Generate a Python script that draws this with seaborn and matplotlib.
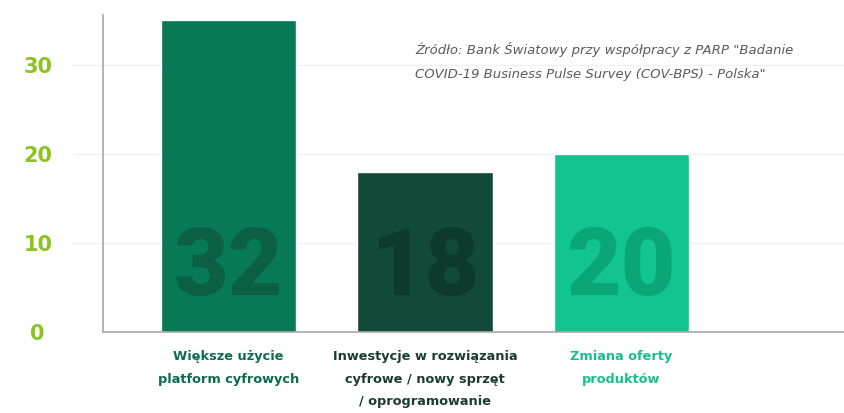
import matplotlib
matplotlib.use("Agg")
import matplotlib.pyplot as plt
import seaborn as sns
import pandas as pd

categories = ["Większe użycie\nplatform cyfrowych",
              "Inwestycje w rozwiązania\ncyfrowe / nowy sprzęt\n/ oprogramowanie",
              "Zmiana oferty\nproduktów"]
bar_heights = [35, 18, 20]
value_labels = ["32", "18", "20"]
y_ticks = [0, 10, 20, 30]
bar_colors = ["#077a55", "#124a3a", "#12c48d"]
number_colors = ["#0b5f43", "#0e3a2d", "#0aa676"]
label_colors = ["#0c6b4d", "#1b3b31", "#16c08c"]
source_text = ("Źródło: Bank Światowy przy współpracy z PARP \"Badanie\n"
               "COVID-19 Business Pulse Survey (COV-BPS) - Polska\"")

sns.set_theme(style="white")
plt.rcParams['font.family'] = ['DejaVu Sans']

df = pd.DataFrame({"cat": categories, "val": bar_heights})

fig = plt.figure(figsize=(8.45, 4.13), dpi=100)
ax = fig.add_axes([0.1219, 0.196, 0.8781, 0.768])

sns.barplot(data=df, x="cat", y="val", hue="cat", palette=bar_colors,
            width=0.69, legend=False, ax=ax, saturation=1)

ax.set_xlim(-0.64, 3.14)
ax.set_ylim(0, 35.6)
ax.set_xlabel("")
ax.set_ylabel("")

for y in y_ticks[1:]:
    ax.axhline(y, xmin=-0.04, xmax=1, color="#f1f1f1", lw=1, zorder=0, clip_on=False)

ax.set_yticks(y_ticks)
ax.set_yticklabels([str(t) for t in y_ticks], fontsize=15, fontweight="bold",
                   color="#8cc31e", ha="center")
ax.tick_params(axis="y", length=0, pad=47)
ax.tick_params(axis="x", length=0, pad=13)
ax.set_xticks(range(len(categories)))
ax.set_xticklabels(categories, fontsize=9.3, fontweight="bold", linespacing=1.95, va="top")
for lbl, c in zip(ax.get_xticklabels(), label_colors):
    lbl.set_color(c)

for i, (lab, c) in enumerate(zip(value_labels, number_colors)):
    ax.text(i, 7.05, lab, ha="center", va="center", fontsize=68,
            fontweight="black", color=c, family=["Roboto", "DejaVu Sans"])

for s in ["top", "right"]:
    ax.spines[s].set_visible(False)
ax.spines["left"].set_color("#a8a8a8")
ax.spines["bottom"].set_color("#a8a8a8")
ax.spines["left"].set_linewidth(1.2)
ax.spines["bottom"].set_linewidth(1.2)

fig.text(0.491, 0.851, source_text, ha="left", va="center", fontsize=9.5,
         style="italic", color="#5a5a5a", linespacing=2.1)

fig.savefig("out.png", dpi=100)
